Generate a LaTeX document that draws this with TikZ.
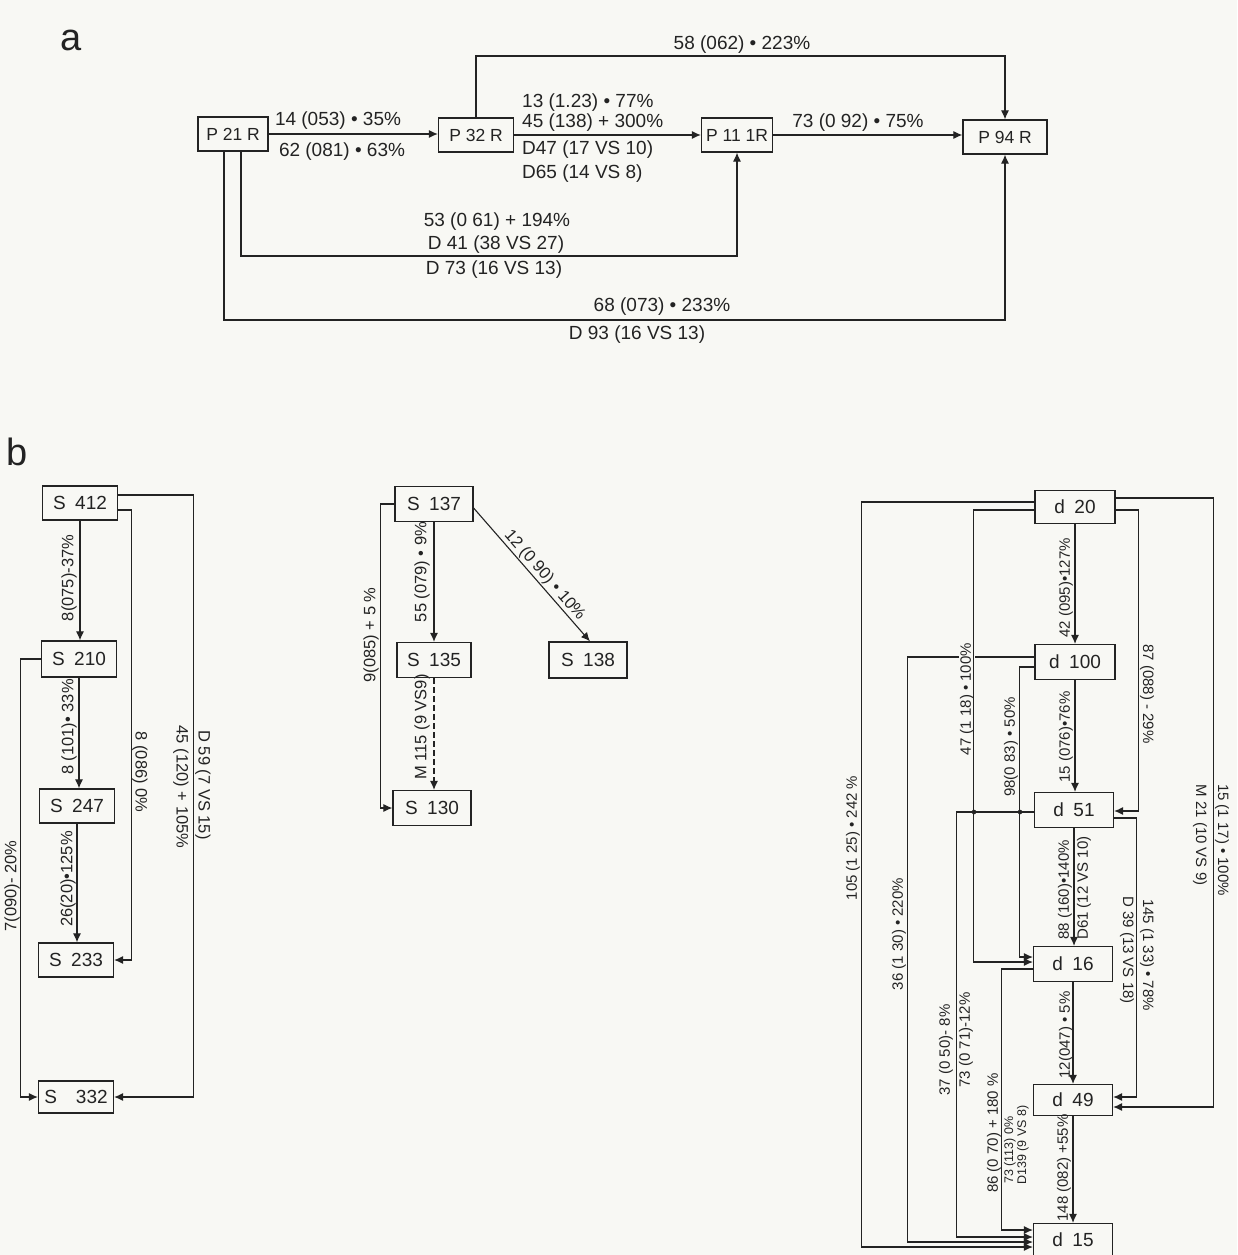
\documentclass[tikz,border=0pt]{standalone}
\usepackage{fontspec}
\setmainfont{Liberation Sans}
\usetikzlibrary{arrows.meta}
\definecolor{bg}{RGB}{248,248,244}
\definecolor{ink}{RGB}{35,35,35}
\begin{document}
\begin{tikzpicture}[x=1pt,y=-1pt,
  box/.style={draw=ink,line width=1.2pt,minimum height=34pt,inner sep=0pt,text=ink,font=\fontsize{19}{19}\selectfont},
  boxa/.style={box,font=\fontsize{17.5}{17.5}\selectfont},
  edge/.style={draw=ink,line width=1.1pt,-{Latex[length=9pt,width=8pt]}},
  la/.style={font=\fontsize{19}{19}\selectfont,text=ink,inner sep=0pt},
  lb/.style={font=\fontsize{16.5}{16.5}\selectfont,text=ink,inner sep=0pt},
  lc/.style={font=\fontsize{15}{15}\selectfont,text=ink,inner sep=0pt},
  ld/.style={font=\fontsize{12.5}{12.5}\selectfont,text=ink,inner sep=0pt},
  rotup/.style={rotate=90},
  rotdn/.style={rotate=-90},
  big/.style={font=\fontsize{38}{38}\selectfont,text=ink,inner sep=0pt}]
\fill[bg] (0,0) rectangle (1237,1255);
\useasboundingbox (0,0) rectangle (1237,1255);

% ---------------- part a ----------------
\node[big] (lblA) at (71,40) {a};
\node[boxa,minimum width=70pt] (p21) at (233,134) {P 21 R};
\node[boxa,minimum width=75pt] (p32) at (476,135) {P 32 R};
\node[boxa,minimum width=71pt] (p11) at (737,135) {P 11 1R};
\node[boxa,minimum width=84pt] (p94) at (1005,137) {P 94 R};
\coordinate (ta) at (0,56);
\coordinate (ya) at (0,256);
\coordinate (yb) at (0,320);

\draw[edge] (p21.east) -- (p21.east -| p32.west);
\draw[edge] (p32.east) -- (p32.east -| p11.west);
\draw[edge] (p11.east) -- (p11.east -| p94.west);
\draw[edge] (p32.north) -- (p32.north |- ta) -| (p94.north);
\draw[edge] ([xshift=8pt]p21.south) |- (p11.south |- ya) -- (p11.south);
\draw[edge] ([xshift=-9pt]p21.south) |- (p94.south |- yb) -- (p94.south);

\node[la] (a1) at (338,121) {14 (053) • 35\%};
\node[la] (a2) at (342,152) {62 (081) • 63\%};
\node[la,anchor=west] (a3) at (522,103) {13 (1.23) • 77\%};
\node[la,anchor=west] (a4) at (522,123) {45 (138) + 300\%};
\node[la,anchor=west] (a5) at (522,150) {D47 (17 VS 10)};
\node[la,anchor=west] (a6) at (522,174) {D65 (14 VS 8)};
\node[la] (a7) at (858,123) {73 (0 92) • 75\%};
\node[la] (a8) at (742,45) {58 (062) • 223\%};
\node[la] (a9) at (497,222) {53 (0 61) + 194\%};
\node[la] (a10) at (496,245) {D 41 (38 VS 27)};
\node[la] (a11) at (494,270) {D 73 (16 VS 13)};
\node[la] (a12) at (662,307) {68 (073) • 233\%};
\node[la] (a13) at (637,335) {D 93 (16 VS 13)};

% ---------------- part b ----------------
\node[big] (lblB) at (17,452) {b};

% left
\node[box,minimum width=75pt] (s412) at (80,503) {S\enspace 412};
\node[box,minimum width=75pt,minimum height=36pt] (s210) at (79,659) {S\enspace 210};
\node[box,minimum width=75pt] (s247) at (77,806) {S\enspace 247};
\node[box,minimum width=75pt] (s233) at (76,960) {S\enspace 233};
\node[box,minimum width=75pt,minimum height=32pt] (s332) at (76,1097) {S\enspace\enspace 332};

\draw[edge] (s412.south) -- (s412.south |- s210.north);
\draw[edge] (s210.south) -- (s210.south |- s247.north);
\draw[edge] (s247.south) -- (s247.south |- s233.north);
\draw[edge] ([yshift=-7pt]s412.east) -- ++(13.5,0) |- (s233.east);
\draw[edge] ([yshift=8pt]s412.east) -- ++(75,0) |- (s332.east);
\draw[edge] (s210.west) -- ++(-20.5,0) |- (s332.west);

\node[lb,rotup] (b1) at (69,578) {8(075)-37\%};
\node[lb,rotup] (b2) at (69,727) {8 (101)• 33\%};
\node[lb,rotup] (b3) at (68,879) {26(20)•125\%};
\node[lb,rotdn] (b4) at (140,772) {8 (086) 0\%};
\node[lb,rotdn] (b5) at (181,787) {45 (120) + 105\%};
\node[lb,rotdn] (b6) at (203,785) {D 59 (7 VS 15)};
\node[lb,rotup] (b7) at (12,886) {7(090)- 20\%};

% middle
\node[box,minimum width=78pt,minimum height=35pt] (s137) at (434,504) {S\enspace 137};
\node[box,minimum width=74pt,minimum height=35pt] (s135) at (434,660) {S\enspace 135};
\node[box,minimum width=78pt,minimum height=36pt] (s138) at (588,660) {S\enspace 138};
\node[box,minimum width=78pt,minimum height=35pt] (s130) at (432,808) {S\enspace 130};

\draw[edge] (s137.south) -- (s137.south |- s135.north);
\draw[edge,dash pattern=on 6pt off 3pt] (s135.south) -- (s135.south |- s130.north);
\draw[edge] (s137.west) -- ++(-14,0) |- (s130.west);
\draw[edge] ([yshift=-4pt]s137.east) -- ([xshift=2pt]s138.north)
  node[lb,pos=0.55,sloped,above=1pt] (m4) {12 (0 90) • 10\%};

\node[lb,rotup] (m1) at (422,572) {55 (079) • 9\%};
\node[lb,rotup] (m2) at (422,727) {M 115 (9 VS9)};
\node[lb,rotup] (m3) at (371,635) {9(085) + 5 \%};

% right
\node[box,minimum width=80pt,minimum height=33pt] (d20) at (1075,507) {d\enspace 20};
\node[box,minimum width=80pt,minimum height=35pt] (d100) at (1075,662) {d\enspace 100};
\node[box,minimum width=79pt,minimum height=35pt] (d51) at (1074,810) {d\enspace 51};
\node[box,minimum width=79pt,minimum height=35pt] (d16) at (1073,964) {d\enspace 16};
\node[box,minimum width=79pt,minimum height=31pt] (d49) at (1073,1100) {d\enspace 49};
\node[box,minimum width=79pt,minimum height=33pt] (d15) at (1073,1240) {d\enspace 15};

\draw[edge] (d20.south) -- (d20.south |- d100.north);
\draw[edge] (d100.south) -- (d100.south |- d51.north);
\draw[edge] (d51.south) -- (d51.south |- d16.north);
\draw[edge] (d16.south) -- (d16.south |- d49.north);
\draw[edge] (d49.south) -- (d49.south |- d15.north);

\draw[edge] ([yshift=9pt]d20.east) -- ++(98,0) |- ([yshift=-7pt]d49.east);
\draw[edge] ([yshift=-3pt]d20.east) -- ++(23,0) |- ([yshift=-1pt]d51.east);
\draw[edge] ([yshift=-8pt]d51.east) -- ++(22,0) |- ([yshift=3pt]d49.east);

\draw[edge] ([yshift=5pt]d20.west) -- ++(-173,0) |- ([yshift=-7pt]d15.west);
\draw[edge] ([yshift=5pt]d100.west) -- ++(-127,0) |- ([yshift=-2pt]d15.west);
\node[lc,rotup,fill=bg,inner sep=1pt] (r10) at (967,699) {47 (1 18) • 100\%};
\draw[edge] ([yshift=-3pt]d20.west) -- ++(-61,0) |- ([yshift=2pt]d16.west);
\draw[edge] ([yshift=-5pt]d100.west) -- ++(-15,0) |- ([yshift=7pt]d16.west);
\draw[edge] ([yshift=-2pt]d51.west) -- ++(-77,0) |- ([yshift=3pt]d15.west);
\draw[edge] ([yshift=-5pt]d16.west) -- ++(-31,0) |- ([yshift=10pt]d15.west);
\fill[ink] (974,812) circle (2.3pt);
\fill[ink] (1020,812) circle (2.3pt);

\node[lc,rotup] (r1) at (1066,588) {42 (095)•127\%};
\node[lc,rotup] (r2) at (1066,737) {15 (076)•76\%};
\node[lc,rotup] (r3) at (1065,890) {88 (160)•140\%};
\node[lc,rotup] (r4) at (1084,888) {D61 (12 VS 10)};
\node[lc,rotup] (r5) at (1066,1035) {12(047) • 5\%};
\node[lc,rotup] (r6) at (1064,1168) {148 (082) +55\%};
\node[lc,rotdn] (r7) at (1147,694) {87 (088) - 29\%};
\node[lc,rotdn] (r8) at (1222,840) {15 (1 17) • 100\%};
\node[lc,rotdn] (r9) at (1200,835) {M 21 (10 VS 9)};
\node[lc,rotdn] (r11) at (1147,955) {145 (1 33) • 78\%};
\node[lc,rotdn] (r12) at (1127,950) {D 39 (13 VS 18)};
\node[lc,rotup] (r13) at (1011,747) {98(0 83) • 50\%};
\node[lc,rotup] (r14) at (853,838) {105 (1 25) • 242 \%};
\node[lc,rotup] (r15) at (899,934) {36 (1 30) • 220\%};
\node[lc,rotup] (r16) at (946,1050) {37 (0 50)- 8\%};
\node[lc,rotup] (r17) at (966,1040) {73 (0 71)-12\%};
\node[lc,rotup] (r18) at (994,1133) {86 (0 70) + 180 \%};
\node[ld,rotup] (r19) at (1010,1150) {73 (113) 0\%};
\node[ld,rotup] (r20) at (1023,1145) {D139 (9 VS 8)};
\end{tikzpicture}
\end{document}
